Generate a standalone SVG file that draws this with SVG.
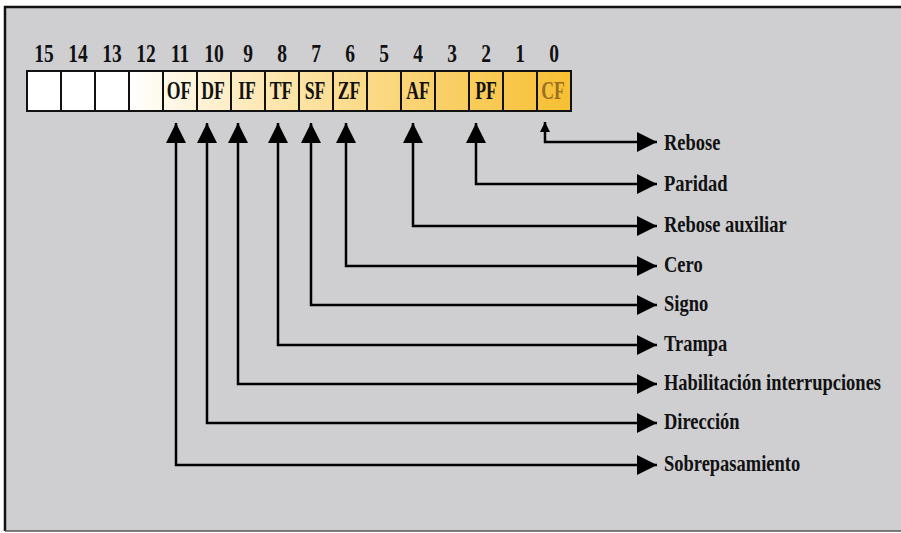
<svg xmlns="http://www.w3.org/2000/svg" width="901" height="533" viewBox="0 0 901 533">
<defs>
<linearGradient id="reg" gradientUnits="userSpaceOnUse" x1="129" y1="0" x2="570" y2="0">
<stop offset="0" stop-color="#ffffff"/>
<stop offset="0.3" stop-color="#fde8b4"/>
<stop offset="1" stop-color="#f7bf32"/>
</linearGradient>
<marker id="big" viewBox="0 0 20 20" refX="20" refY="10" markerWidth="20" markerHeight="20" markerUnits="userSpaceOnUse" orient="auto-start-reverse">
<path d="M0,0 L20,10 L0,20 z" fill="#000"/>
</marker>
<marker id="small" viewBox="0 0 10 10" refX="10" refY="5" markerWidth="10" markerHeight="10" markerUnits="userSpaceOnUse" orient="auto-start-reverse">
<path d="M0,0 L10,5 L0,10 z" fill="#000"/>
</marker>
</defs>
<style>
.t{font-family:"Liberation Serif","Times New Roman",serif;font-weight:bold;fill:#111}
.num{font-size:26px;text-anchor:middle}
.cell{font-size:26px;text-anchor:middle}
.lab{font-size:24px}
.box{stroke:#111;stroke-width:2}
.c{fill:none;stroke:#000;stroke-width:2.5}
</style>
<rect x="0" y="0" width="901" height="533" fill="#ffffff"/>
<rect x="5" y="7" width="900" height="524" fill="#cfcfd2"/>
<path d="M5,531 V7 H901" fill="none" stroke="#111" stroke-width="2.5"/>
<line x1="5" y1="531" x2="901" y2="531" stroke="#555" stroke-width="1.5"/>

<g id="register">
<rect class="box" x="27" y="71" width="544" height="40" fill="url(#reg)"/>
<rect x="28" y="72" width="101" height="38" fill="#fff"/>
<path class="box" d="M61,71V111M95,71V111M129,71V111M163,71V111M197,71V111M231,71V111M265,71V111M299,71V111M333,71V111M367,71V111M401,71V111M435,71V111M469,71V111M503,71V111M537,71V111" fill="none"/>
<rect class="box" x="27" y="71" width="544" height="40" fill="none"/>
</g>

<g id="bitnumbers" class="t num">
<text transform="translate(44,62) scale(0.75,1)">15</text>
<text transform="translate(78,62) scale(0.75,1)">14</text>
<text transform="translate(112,62) scale(0.75,1)">13</text>
<text transform="translate(146,62) scale(0.75,1)">12</text>
<text transform="translate(180,62) scale(0.75,1)">11</text>
<text transform="translate(214,62) scale(0.75,1)">10</text>
<text transform="translate(248,62) scale(0.75,1)">9</text>
<text transform="translate(282,62) scale(0.75,1)">8</text>
<text transform="translate(316,62) scale(0.75,1)">7</text>
<text transform="translate(350,62) scale(0.75,1)">6</text>
<text transform="translate(384,62) scale(0.75,1)">5</text>
<text transform="translate(418,62) scale(0.75,1)">4</text>
<text transform="translate(452,62) scale(0.75,1)">3</text>
<text transform="translate(486,62) scale(0.75,1)">2</text>
<text transform="translate(520,62) scale(0.75,1)">1</text>
<text transform="translate(554,62) scale(0.75,1)">0</text>
</g>

<g id="OF"><text class="t cell" transform="translate(179,99) scale(0.68,1)">OF</text></g>
<g id="DF"><text class="t cell" transform="translate(213,99) scale(0.68,1)">DF</text></g>
<g id="IF"><text class="t cell" transform="translate(247,99) scale(0.68,1)">IF</text></g>
<g id="TF"><text class="t cell" transform="translate(281,99) scale(0.68,1)">TF</text></g>
<g id="SF"><text class="t cell" transform="translate(315,99) scale(0.68,1)">SF</text></g>
<g id="ZF"><text class="t cell" transform="translate(349,99) scale(0.68,1)">ZF</text></g>
<g id="AF"><text class="t cell" transform="translate(418,99) scale(0.68,1)">AF</text></g>
<g id="PF"><text class="t cell" transform="translate(486,99) scale(0.68,1)">PF</text></g>
<g id="CF"><text class="t cell" transform="translate(553,99) scale(0.68,1)" style="fill:#9a7020">CF</text></g>

<g id="labels" class="t lab">
<g id="l-rebose"><text transform="translate(664,150) scale(0.77,1)">Rebose</text></g>
<g id="l-paridad"><text transform="translate(664,191) scale(0.77,1)">Paridad</text></g>
<g id="l-auxiliar"><text transform="translate(664,232) scale(0.77,1)">Rebose auxiliar</text></g>
<g id="l-cero"><text transform="translate(664,272) scale(0.77,1)">Cero</text></g>
<g id="l-signo"><text transform="translate(664,311) scale(0.77,1)">Signo</text></g>
<g id="l-trampa"><text transform="translate(664,351) scale(0.77,1)">Trampa</text></g>
<g id="l-habil"><text transform="translate(664,390) scale(0.77,1)">Habilitación interrupciones</text></g>
<g id="l-direccion"><text transform="translate(664,429) scale(0.77,1)">Dirección</text></g>
<g id="l-sobre"><text transform="translate(664,471) scale(0.77,1)">Sobrepasamiento</text></g>
</g>

<g id="connectors">
<path class="c" d="M545,122 V142 H657" marker-start="url(#small)" marker-end="url(#big)"/>
<path class="c" d="M476,123 V184 H657" marker-start="url(#big)" marker-end="url(#big)"/>
<path class="c" d="M413,123 V226 H657" marker-start="url(#big)" marker-end="url(#big)"/>
<path class="c" d="M346,123 V266 H657" marker-start="url(#big)" marker-end="url(#big)"/>
<path class="c" d="M311,123 V305 H657" marker-start="url(#big)" marker-end="url(#big)"/>
<path class="c" d="M278,123 V345 H657" marker-start="url(#big)" marker-end="url(#big)"/>
<path class="c" d="M238,123 V384 H657" marker-start="url(#big)" marker-end="url(#big)"/>
<path class="c" d="M207,123 V423 H657" marker-start="url(#big)" marker-end="url(#big)"/>
<path class="c" d="M176,123 V465 H657" marker-start="url(#big)" marker-end="url(#big)"/>
</g>
</svg>
